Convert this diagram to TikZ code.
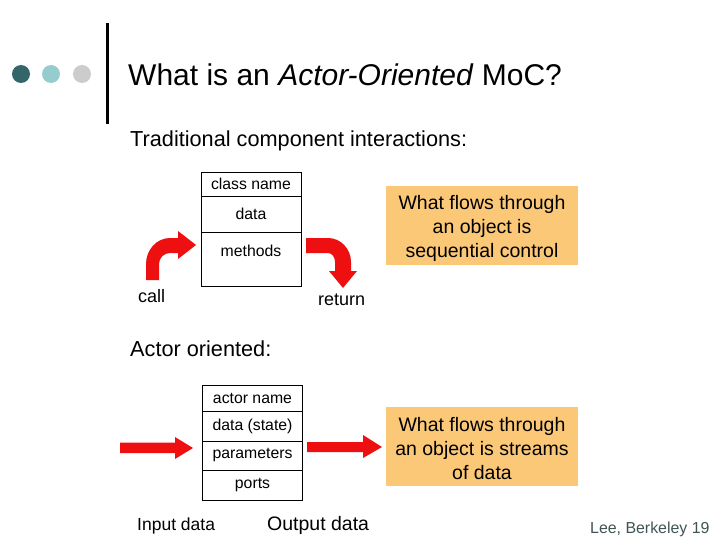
\documentclass[tikz,border=0pt]{standalone}
\usepackage{fontspec}
\setmainfont{Liberation Sans}
\definecolor{dotdark}{RGB}{51,102,106}
\definecolor{dotlight}{RGB}{150,204,206}
\definecolor{dotgray}{RGB}{204,204,204}
\definecolor{boxorange}{RGB}{251,200,120}
\definecolor{arrowred}{RGB}{238,16,16}
\definecolor{footgray}{RGB}{64,84,84}
\newcommand{\fs}[2]{\fontsize{#1}{#2}\selectfont}
\tikzset{
  cell/.style={draw=black, line width=0.8pt, minimum width=100, inner sep=0pt, font=\fs{15.8}{19}},
  obox/.style={fill=boxorange, draw=none, minimum width=192, minimum height=79, inner sep=0pt},
  otext/.style={align=center, inner sep=0pt, font=\fs{19.5}{24}},
  heading/.style={anchor=base west, inner sep=0pt, font=\fs{21.7}{26}},
  plain/.style={anchor=base west, inner sep=0pt},
  blockarrow/.style={fill=arrowred, draw=none},
}
\begin{document}
\begin{tikzpicture}[x=1pt,y=-1pt]
\useasboundingbox (0,0) rectangle (720,540);
% decorations of the slide title
\fill[dotdark] (21,74) circle (9);
\fill[dotlight] (51,74) circle (9);
\fill[dotgray] (82,74) circle (9);
\draw[line width=3pt] (107,23) -- (107,124);
\node[plain, font=\fs{30}{36}] (title) at (128,86) {What is an \textit{Actor-Oriented} MoC?};
% traditional
\node[heading] (trad) at (130,147) {Traditional component interactions:};
\node[cell, minimum height=24] (cname) at (251,184) {class name};
\node[cell, minimum height=36] (cdata) at (251,214) {data};
\node[cell, minimum height=54] (cmeth) at (251,259) {};
\node[inner sep=0pt, font=\fs{15.8}{19}] (cmethtext) at (251,251) {methods};
\fill[blockarrow] (146,280) -- (146,264) .. controls (146,249.6) and (156.8,238) .. (170,238)
  -- (178,238) -- (178,231) -- (196,245) -- (178,259) -- (178,253) -- (170,253)
  .. controls (163.9,253) and (159,257.9) .. (159,264) -- (159,280) -- cycle;
\fill[blockarrow] (306,238) -- (328,238) .. controls (340.7,238) and (351,248.8) .. (351,262)
  -- (351,271) -- (357,271) -- (343,288) -- (329,271) -- (335,271) -- (335,262)
  .. controls (335,257) and (331.9,253) .. (328,253) -- (306,253) -- cycle;
\node[plain, font=\fs{18}{22}] (call) at (138,302) {call};
\node[plain, font=\fs{18}{22}] (ret) at (318,305) {return};
\node[obox] (flow1) at (482,225.5) {};
\node[otext] (flow1text) at (482,228) {What flows through\\an object is\\sequential control};
% actor oriented
\node[heading] (actor) at (130,356) {Actor oriented:};
\node[cell, minimum height=26] (aname) at (252.5,398) {actor name};
\node[cell, minimum height=30] (adata) at (252.5,426) {data (state)};
\node[cell, minimum height=29] (apar) at (252.5,455.5) {parameters};
\node[cell, minimum height=30] (aports) at (252.5,485) {ports};
\fill[blockarrow] (120,442.5) -- (175,442.5) -- (175,437) -- (193,448) -- (175,459) -- (175,453) -- (120,453) -- cycle;
\fill[blockarrow] (307,442) -- (363,442) -- (363,435) -- (382,447) -- (363,458) -- (363,452) -- (307,452) -- cycle;
\node[obox] (flow2) at (482,446.5) {};
\node[otext] (flow2text) at (482,448.5) {What flows through\\an object is streams\\of data};
\node[plain, font=\fs{17.5}{21}] (indata) at (137,530) {Input data};
\node[plain, font=\fs{19.5}{23}] (outdata) at (267,530) {Output data};
\node[plain, font=\fs{15.9}{19}, text=footgray] (foot) at (590,533) {Lee, Berkeley 19};
\end{tikzpicture}
\end{document}
